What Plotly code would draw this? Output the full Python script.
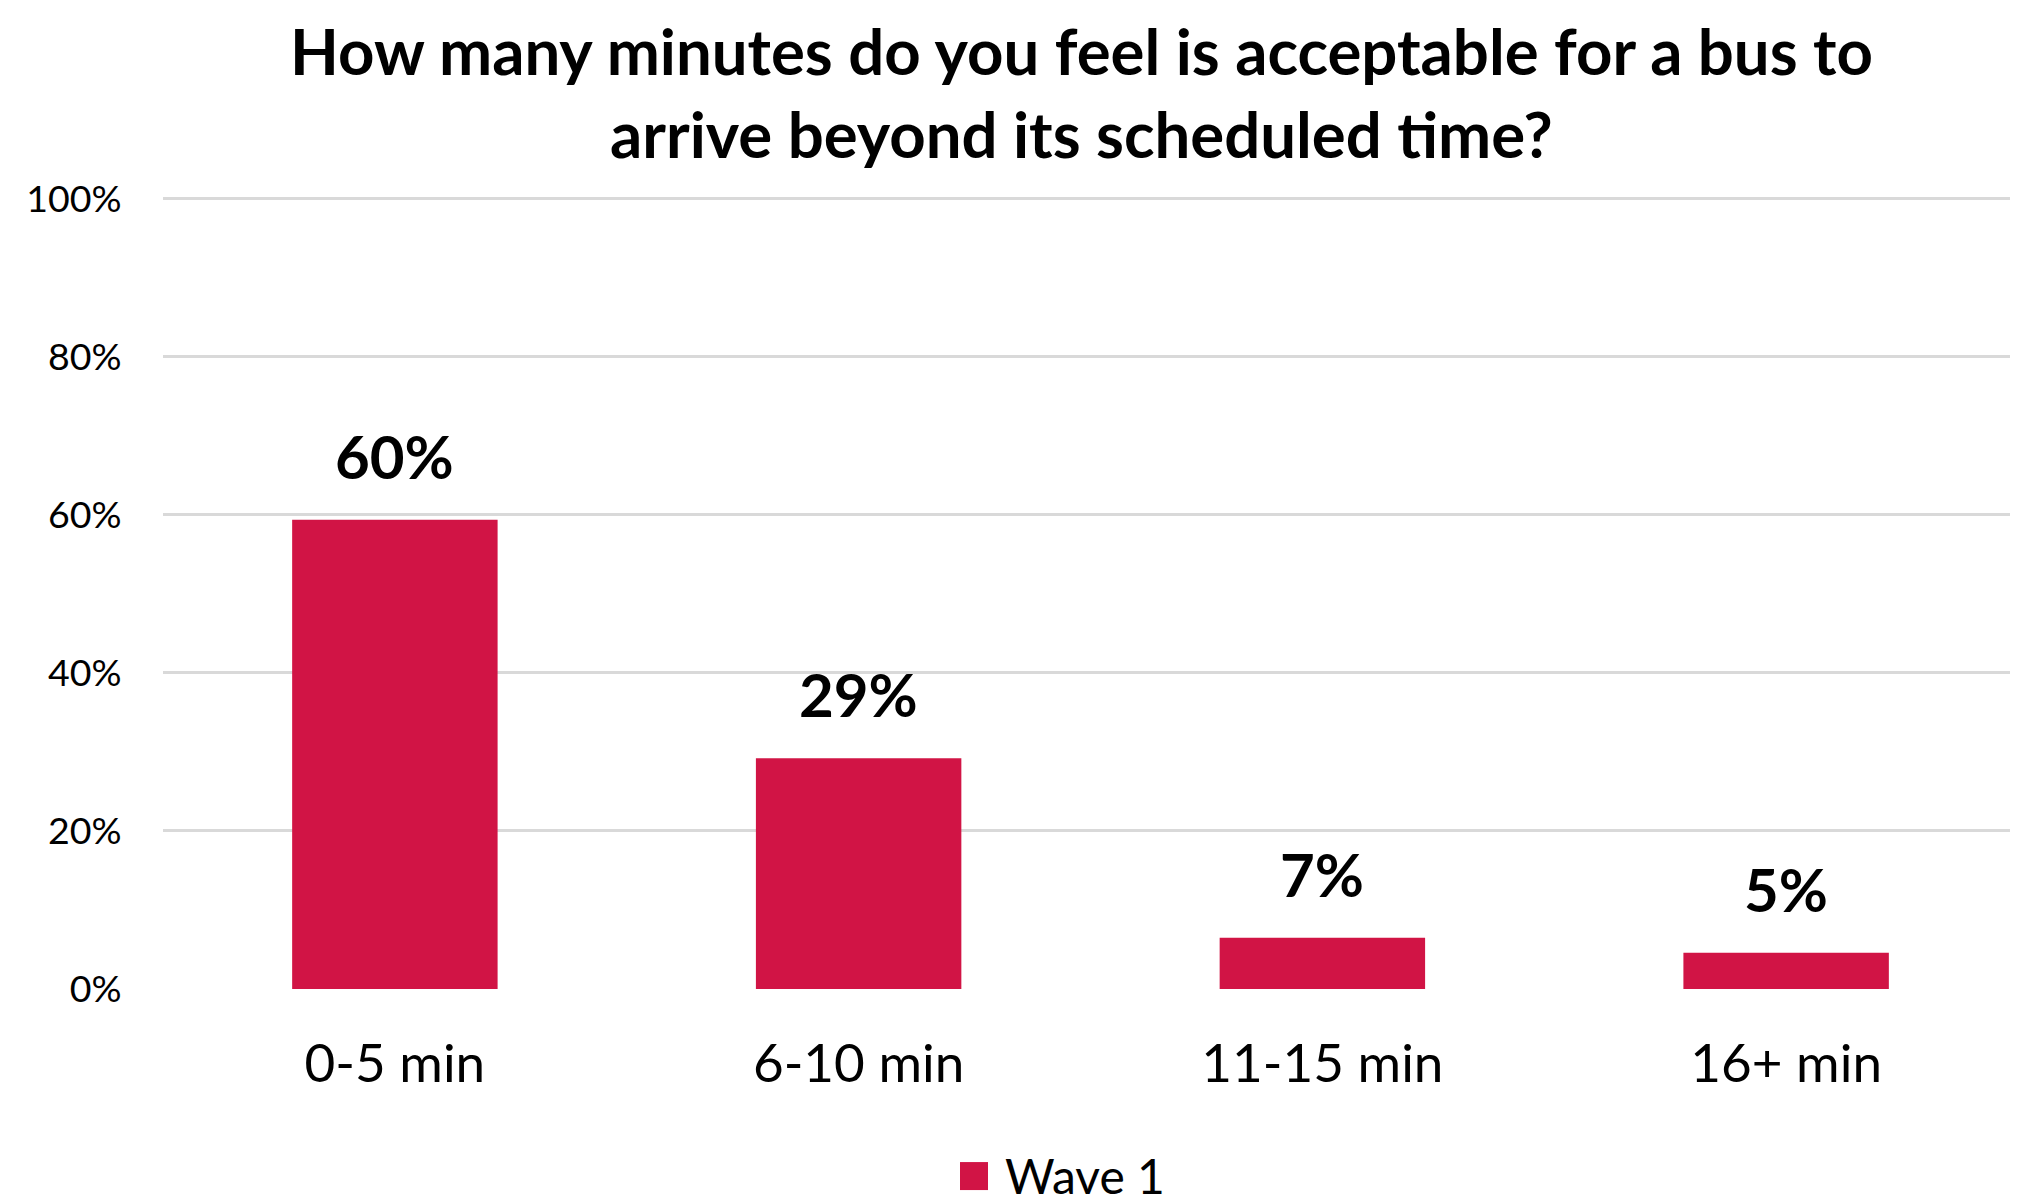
import plotly.graph_objects as go

categories = ["0-5 min", "6-10 min", "11-15 min", "16+ min"]
values = [59.4, 29.2, 6.5, 4.6]
value_labels = ["60%", "29%", "7%", "5%"]
y_ticks = [0, 20, 40, 60, 80, 100]
y_tick_labels = ["0%", "20%", "40%", "60%", "80%", "100%"]
series_name = "Wave 1"
title_text = "How many minutes do you feel is acceptable for a bus to<br>arrive beyond its scheduled time?"

FONT = "Lato, 'Open Sans', sans-serif"
BAR = "#D11445"

fig = go.Figure()
fig.add_trace(go.Bar(
    x=categories, y=values, name=series_name,
    marker=dict(color=BAR, line=dict(width=0)),
    showlegend=False,
))

for c, v, t in zip(categories, values, value_labels):
    fig.add_annotation(x=c, y=v, text="<b>%s</b>" % t, showarrow=False,
                       yanchor="middle", yshift=64,
                       font=dict(family=FONT, size=60, color="#000000"))

# title
fig.add_annotation(xref="paper", yref="paper", x=0.4949, y=1.1291,
                   xanchor="center", yanchor="middle", showarrow=False,
                   text="<b>%s</b>" % title_text,
                   font=dict(family=FONT, size=63.5, color="#000000"))

# legend (square swatch + label)
fig.add_shape(type="rect", xref="paper", yref="paper",
              xsizemode="pixel", ysizemode="pixel",
              xanchor=0.4372, yanchor=-0.2356,
              x0=-14, x1=14, y0=-14, y1=14,
              fillcolor=BAR, line=dict(width=0))
fig.add_annotation(xref="paper", yref="paper", x=0.4528, y=-0.2343,
                   xanchor="left", yanchor="middle", showarrow=False,
                   text=series_name,
                   font=dict(family=FONT, size=48, color="#000000"))

fig.update_layout(
    width=2010, height=1195,
    paper_bgcolor="white", plot_bgcolor="white",
    margin=dict(l=155, r=0, t=187, b=214, autoexpand=False),
    bargap=0.557,
    font=dict(family=FONT, color="#000000"),
    showlegend=False,
    xaxis=dict(showgrid=False, showline=False, zeroline=False,
               ticks="outside", ticklen=28, tickcolor="rgba(0,0,0,0)",
               tickfont=dict(family=FONT, size=53, color="#000000")),
    yaxis=dict(range=[0, 100.5], tickvals=y_ticks, ticktext=y_tick_labels,
               showgrid=True, gridcolor="#D9D9D9", gridwidth=3,
               zeroline=False, showline=False,
               ticks="outside", ticklen=33, tickcolor="rgba(0,0,0,0)",
               tickfont=dict(family=FONT, size=37.5, color="#000000")),
)

fig.write_html("out.html")
